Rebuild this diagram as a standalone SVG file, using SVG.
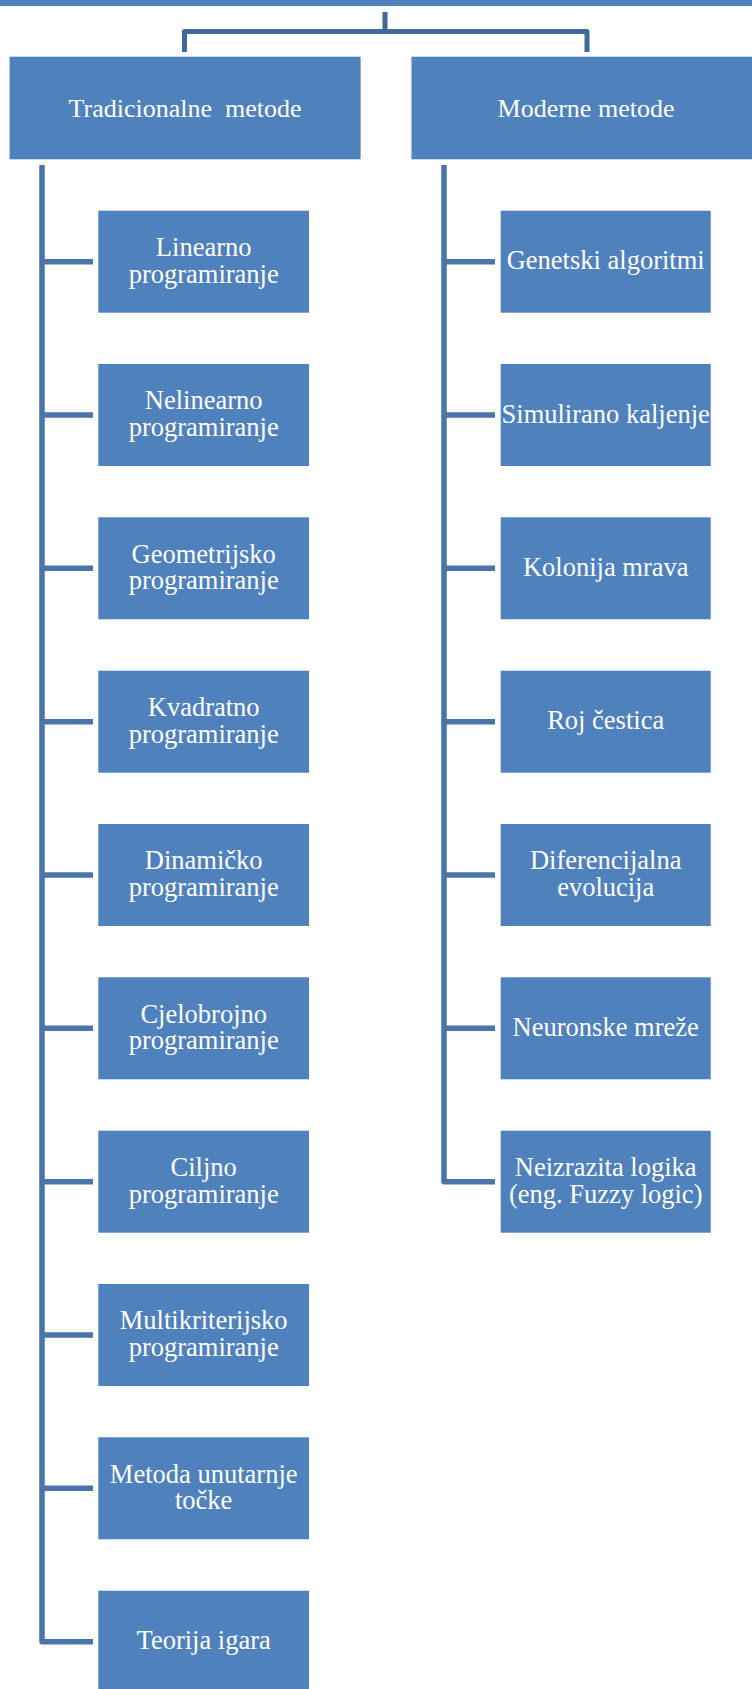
<svg xmlns="http://www.w3.org/2000/svg" width="752" height="1689" viewBox="0 0 752 1689">
<style>
.box{fill:#4F81BD}
.lbl{fill:#FFFFFF;font-family:"Liberation Serif","Times New Roman",serif;font-size:26.5px;text-anchor:middle}
.top{font-size:26px}
.ln{fill:none;stroke:#4A74AA;stroke-width:5.5;stroke-linejoin:round;stroke-linecap:butt}
.br{fill:none;stroke:#41699B;stroke-width:5;stroke-linejoin:round}
</style>
<rect width="752" height="1689" fill="#FFFFFF"/>
<g id="connectors">
<path class="br" d="M385 12V31.5M184.5 52V31.5H587V52"/>
<path class="ln" d="M42 165V1641.7H93"/>
<path class="ln" d="M42 261.7H93M42 415H93M42 568.3H93M42 721.7H93M42 875H93M42 1028.3H93M42 1181.7H93M42 1335H93M42 1488.3H93"/>
<path class="ln" d="M444 165V1181.7H495"/>
<path class="ln" d="M444 261.7H495M444 415H495M444 568.3H495M444 721.7H495M444 875H495M444 1028.3H495"/>
</g>
<g id="root"><rect class="box" x="-10" y="-60" width="772" height="66"/></g>
<g id="tradicionalne"><rect class="box" x="9.6" y="56.7" width="351" height="102.6"/><text class="lbl top" x="185" y="117.3" xml:space="preserve">Tradicionalne  metode</text></g>
<g id="moderne"><rect class="box" x="411.5" y="56.7" width="350" height="102.6"/><text class="lbl top" x="586" y="117.3">Moderne metode</text></g>

<g id="linearno"><rect class="box" x="98.3" y="210.7" width="210.7" height="102"/><text class="lbl" x="203.7" y="256">Linearno</text><text class="lbl" x="203.7" y="282.7">programiranje</text></g>
<g id="nelinearno"><rect class="box" x="98.3" y="364" width="210.7" height="102"/><text class="lbl" x="203.7" y="409.3">Nelinearno</text><text class="lbl" x="203.7" y="436">programiranje</text></g>
<g id="geometrijsko"><rect class="box" x="98.3" y="517.3" width="210.7" height="102"/><text class="lbl" x="203.7" y="562.6">Geometrijsko</text><text class="lbl" x="203.7" y="589.3">programiranje</text></g>
<g id="kvadratno"><rect class="box" x="98.3" y="670.7" width="210.7" height="102"/><text class="lbl" x="203.7" y="716">Kvadratno</text><text class="lbl" x="203.7" y="742.7">programiranje</text></g>
<g id="dinamicko"><rect class="box" x="98.3" y="824" width="210.7" height="102"/><text class="lbl" x="203.7" y="869.3">Dinamičko</text><text class="lbl" x="203.7" y="896">programiranje</text></g>
<g id="cjelobrojno"><rect class="box" x="98.3" y="977.3" width="210.7" height="102"/><text class="lbl" x="203.7" y="1022.6">Cjelobrojno</text><text class="lbl" x="203.7" y="1049.3">programiranje</text></g>
<g id="ciljno"><rect class="box" x="98.3" y="1130.7" width="210.7" height="102"/><text class="lbl" x="203.7" y="1176">Ciljno</text><text class="lbl" x="203.7" y="1202.7">programiranje</text></g>
<g id="multikriterijsko"><rect class="box" x="98.3" y="1284" width="210.7" height="102"/><text class="lbl" x="203.7" y="1329.3">Multikriterijsko</text><text class="lbl" x="203.7" y="1356">programiranje</text></g>
<g id="unutarnje"><rect class="box" x="98.3" y="1437.3" width="210.7" height="102"/><text class="lbl" x="203.7" y="1482.6">Metoda unutarnje</text><text class="lbl" x="203.7" y="1509.3">točke</text></g>
<g id="teorija"><rect class="box" x="98.3" y="1590.7" width="210.7" height="102"/><text class="lbl" x="203.7" y="1649.2">Teorija igara</text></g>

<g id="genetski"><rect class="box" x="500.7" y="210.7" width="210" height="102"/><text class="lbl" x="605.7" y="269.2">Genetski algoritmi</text></g>
<g id="simulirano"><rect class="box" x="500.7" y="364" width="210" height="102"/><text class="lbl" x="605.7" y="422.5">Simulirano kaljenje</text></g>
<g id="kolonija"><rect class="box" x="500.7" y="517.3" width="210" height="102"/><text class="lbl" x="605.7" y="575.8">Kolonija mrava</text></g>
<g id="roj"><rect class="box" x="500.7" y="670.7" width="210" height="102"/><text class="lbl" x="605.7" y="729.2">Roj čestica</text></g>
<g id="diferencijalna"><rect class="box" x="500.7" y="824" width="210" height="102"/><text class="lbl" x="605.7" y="869.3">Diferencijalna</text><text class="lbl" x="605.7" y="896">evolucija</text></g>
<g id="neuronske"><rect class="box" x="500.7" y="977.3" width="210" height="102"/><text class="lbl" x="605.7" y="1035.8">Neuronske mreže</text></g>
<g id="neizrazita"><rect class="box" x="500.7" y="1130.7" width="210" height="102"/><text class="lbl" x="605.7" y="1176">Neizrazita logika</text><text class="lbl" x="605.7" y="1202.7">(eng. Fuzzy logic)</text></g>
</svg>
